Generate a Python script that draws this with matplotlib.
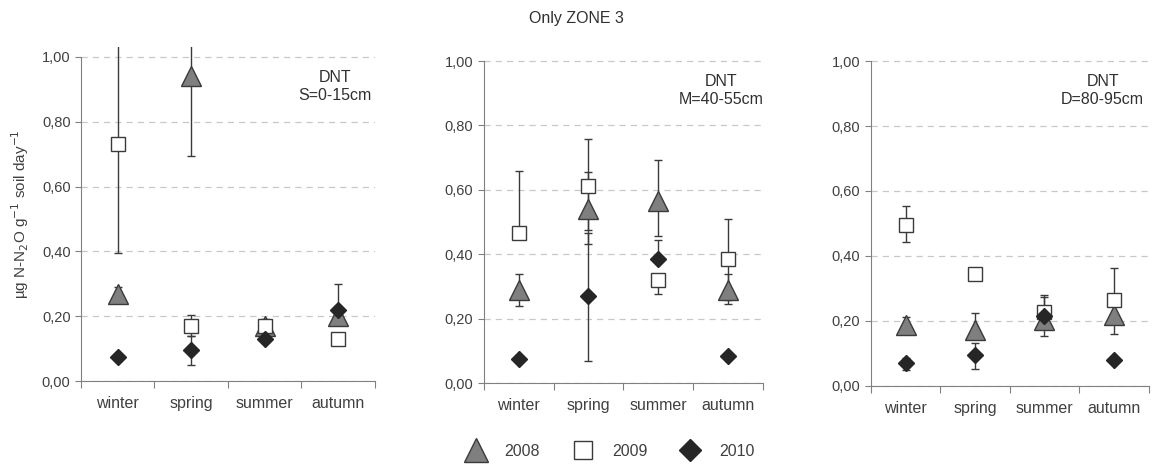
import numpy as np
import matplotlib.pyplot as plt
from matplotlib.lines import Line2D
from matplotlib.ticker import FuncFormatter, FixedLocator

plt.rcParams['font.family'] = ['Liberation Sans', 'DejaVu Sans']

seasons = ["winter", "spring", "summer", "autumn"]
years = ["2008", "2009", "2010"]
depths = ["DNT\nS=0-15cm", "DNT\nM=40-55cm", "DNT\nD=80-95cm"]

# ------------------------------------------------------------------
# data: means, lower and upper end of error bars
# ------------------------------------------------------------------
# panel S (0-15 cm)
s_2008 = [0.27, 0.94, 0.17, 0.20]
s_2008_lo = [0.27, 0.695, 0.17, 0.20]
s_2008_hi = [0.29, 1.10, 0.19, 0.23]
s_2009 = [0.73, 0.17, 0.17, 0.13]
s_2009_lo = [0.395, 0.14, 0.155, 0.11]
s_2009_hi = [1.10, 0.205, 0.18, 0.13]
s_2010 = [0.075, 0.095, 0.13, 0.22]
s_2010_lo = [0.075, 0.05, 0.13, 0.22]
s_2010_hi = [0.075, 0.14, 0.13, 0.30]

# panel M (40-55 cm)
m_2008 = [0.288, 0.541, 0.565, 0.288]
m_2008_lo = [0.238, 0.476, 0.457, 0.244]
m_2008_hi = [0.34, 0.759, 0.694, 0.34]
m_2009 = [0.467, 0.612, 0.321, 0.386]
m_2009_lo = [0.467, 0.433, 0.277, 0.259]
m_2009_hi = [0.66, 0.655, 0.321, 0.51]
m_2010 = [0.076, 0.27, 0.386, 0.083]
m_2010_lo = [0.076, 0.067, 0.386, 0.083]
m_2010_hi = [0.076, 0.467, 0.443, 0.083]

# panel D (80-95 cm)
d_2008 = [0.187, 0.172, 0.203, 0.218]
d_2008_lo = [0.187, 0.172, 0.155, 0.16]
d_2008_hi = [0.213, 0.225, 0.203, 0.218]
d_2009 = [0.495, 0.345, 0.228, 0.264]
d_2009_lo = [0.442, 0.345, 0.228, 0.264]
d_2009_hi = [0.554, 0.345, 0.28, 0.364]
d_2010 = [0.07, 0.095, 0.216, 0.08]
d_2010_lo = [0.049, 0.053, 0.177, 0.08]
d_2010_hi = [0.087, 0.133, 0.275, 0.08]

panels = [
    [(s_2008, s_2008_lo, s_2008_hi), (s_2009, s_2009_lo, s_2009_hi), (s_2010, s_2010_lo, s_2010_hi)],
    [(m_2008, m_2008_lo, m_2008_hi), (m_2009, m_2009_lo, m_2009_hi), (m_2010, m_2010_lo, m_2010_hi)],
    [(d_2008, d_2008_lo, d_2008_hi), (d_2009, d_2009_lo, d_2009_hi), (d_2010, d_2010_lo, d_2010_hi)],
]

# marker styles per year
styles = [
    dict(marker="^", markersize=14.5, markerfacecolor="#7f7f7f", markeredgecolor="#3a3a3a"),
    dict(marker="s", markersize=9.5, markerfacecolor="white", markeredgecolor="#3a3a3a"),
    dict(marker="D", markersize=8.3, markerfacecolor="#262626", markeredgecolor="#262626"),
]
legend_sizes = [17, 13, 11]

txt_col = "#404040"
# axes boxes reach a little above 1,00 so that long error bars stick out (clipped)
ytop = 1.03
axes_pos = [
    [0.0703, 0.1824, 0.255, 0.6953 * ytop],
    [0.420, 0.178, 0.242, 0.691 * ytop],
    [0.756, 0.172, 0.241, 0.697 * ytop],
]
label_x = [0.864, 0.85, 0.835]

fig = plt.figure(figsize=(11.52, 4.66), dpi=100)
x = np.arange(1, 5)

for p, series in enumerate(panels):
    ax = fig.add_axes(axes_pos[p])
    for (vals, lo, hi), st in zip(series, styles):
        vals = np.array(vals)
        err = [vals - np.array(lo), np.array(hi) - vals]
        ax.errorbar(x, vals, yerr=err, linestyle="none", ecolor="#3a3a3a",
                    elinewidth=1, capsize=3, capthick=1, markeredgewidth=1,
                    zorder=3, **st)
    ax.set_xlim(0.5, 4.5)
    ax.set_ylim(0, ytop)
    ax.spines["left"].set_bounds(0, 1.0)
    ax.yaxis.set_major_locator(FixedLocator(np.arange(0, 1.01, 0.2)))
    ax.yaxis.set_major_formatter(FuncFormatter(lambda v, pos: f"{v:.2f}".replace(".", ",")))
    ax.grid(axis="y", linestyle=(0, (5, 4)), color="#c8c8c8", linewidth=0.9, zorder=0)
    ax.set_axisbelow(True)
    ax.set_xticks(np.arange(0.5, 4.6, 1.0))
    ax.set_xticklabels([])
    ax.set_xticks(x, minor=True)
    ax.set_xticklabels(seasons, minor=True)
    ax.tick_params(axis="x", which="minor", length=0, pad=11, labelsize=11.5, labelcolor=txt_col)
    ax.tick_params(axis="x", which="major", length=5, color="#808080")
    ax.tick_params(axis="y", length=4, color="#808080", labelsize=10.5, labelcolor=txt_col)
    for side in ["top", "right"]:
        ax.spines[side].set_visible(False)
    for side in ["left", "bottom"]:
        ax.spines[side].set_color("#808080")
    ax.text(label_x[p], 0.905 * ytop, depths[p], transform=ax.transAxes, ha="center", va="top",
            multialignment="center", fontsize=11.5, color="#303030", linespacing=1.25)
    if p == 0:
        ax.set_ylabel("µg N-N$_2$O g$^{-1}$ soil day$^{-1}$", fontsize=11, color=txt_col, labelpad=8)

fig.text(0.5, 0.961, "Only ZONE 3", ha="center", va="center", fontsize=11.5, color="#303030")

handles = [Line2D([], [], linestyle="none", **dict(st, markersize=ms))
           for st, ms in zip(styles, legend_sizes)]
fig.legend(handles, years, loc="center", bbox_to_anchor=(0.527, 0.032), ncol=3, frameon=False,
           fontsize=11.5, handletextpad=0.8, columnspacing=1.7, labelcolor=txt_col)

fig.savefig("out.png", dpi=100)
